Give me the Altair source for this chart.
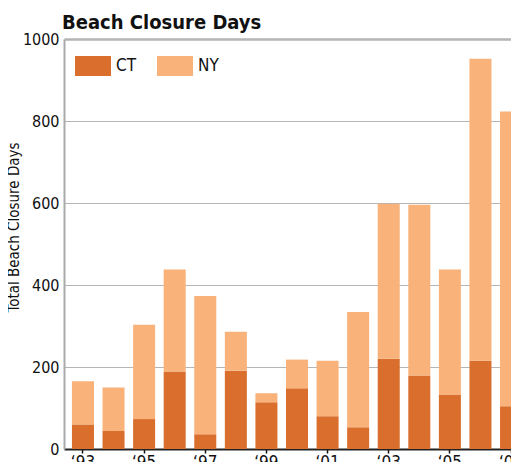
import altair as alt
import pandas as pd

years = [1993, 1994, 1995, 1996, 1997, 1998, 1999, 2000, 2001, 2002, 2003, 2004, 2005, 2006, 2007]
ct_days = [60, 44, 73, 189, 36, 191, 114, 148, 80, 53, 220, 179, 133, 215, 104]
ny_days = [105, 106, 230, 249, 337, 95, 22, 70, 135, 281, 378, 417, 305, 737, 719]
states = ["CT", "NY"]
colors = ["#DA6E2D", "#F8B27A"]
y_ticks = [0, 200, 400, 600, 800, 1000]
x_label_years = [1993, 1995, 1997, 1999, 2001, 2003, 2005, 2007]

rows = []
for y, c, n in zip(years, ct_days, ny_days):
    rows.append({"year": y, "state": "CT", "days": c, "ord": 0})
    rows.append({"year": y, "state": "NY", "days": n, "ord": 1})
df = pd.DataFrame(rows)

FONT = "DejaVu Sans Condensed"

chart = alt.Chart(df).mark_bar().encode(
    x=alt.X("year:O",
            scale=alt.Scale(paddingInner=0.28, paddingOuter=0.26, range=[0, 466]),
            axis=alt.Axis(title=None, values=x_label_years, labelAngle=0,
                          labelExpr="'\u2018' + substring(toString(datum.value), 2)",
                          labelFontSize=17, labelColor="#111", labelPadding=1,
                          tickSize=4, tickColor="#111", tickWidth=1.5,
                          domainColor="#222", domainWidth=2, grid=False)),
    y=alt.Y("days:Q", stack="zero",
            scale=alt.Scale(domain=[0, 1000], nice=False),
            axis=alt.Axis(title="Total Beach Closure Days", values=y_ticks, format="d",
                          titleFontSize=15, titleFontWeight="normal", titleColor="#111",
                          titlePadding=1, titleY=188,
                          labelFontSize=16, labelColor="#111", labelPadding=5,
                          tickSize=0, domainColor="#aaaaaa", domainWidth=2,
                          gridColor="#b5b5b5",
                          gridWidth={"condition": {"test": "datum.value == 1000", "value": 2.5},
                                     "value": 1.2})),
    color=alt.Color("state:N",
                    scale=alt.Scale(domain=states, range=colors),
                    legend=alt.Legend(title=None, orient="none", direction="horizontal",
                                      legendX=19, legendY=17,
                                      symbolType="M-1.8,-1H1.8V1H-1.8Z", symbolSize=400,
                                      symbolStrokeWidth=0, symbolOpacity=1,
                                      labelFontSize=17, labelColor="#111",
                                      labelOffset=13, columnPadding=20)),
    order=alt.Order("ord:Q", sort="ascending"),
).properties(
    width=447,
    height=410,
    autosize=alt.AutoSizeParams(type="none"),
    padding={"left": 56, "top": 31, "right": 0, "bottom": 13},
    title=alt.TitleParams("Beach Closure Days", anchor="start", frame="group",
                          fontSize=20, fontWeight="bold", color="#111", font=FONT,
                          offset=6, dx=-2, dy=8),
).configure(
    font=FONT,
).configure_view(
    strokeWidth=0,
)

chart.save("out.html", embed_options={"renderer": "svg", "actions": False})
